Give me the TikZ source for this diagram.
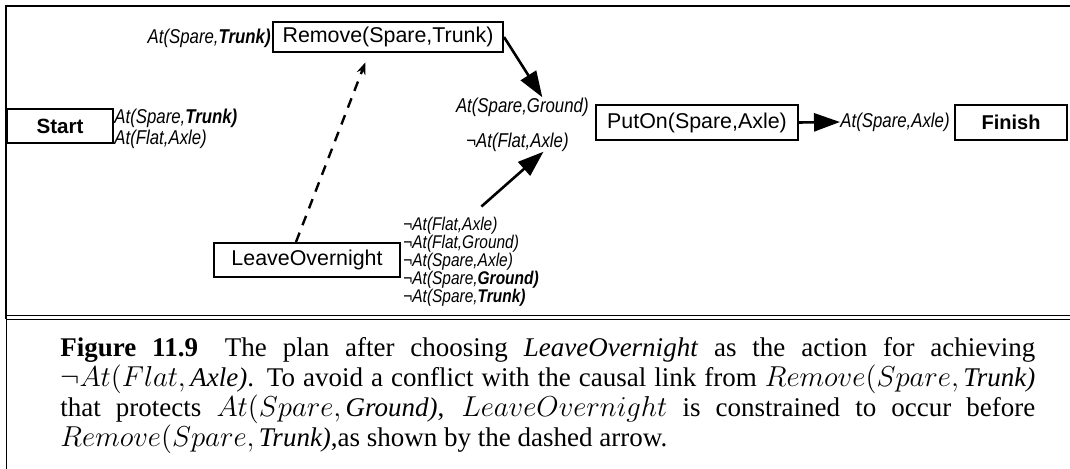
\documentclass[tikz,border=0pt]{standalone}
\usepackage{fontspec}
\setmainfont{Liberation Serif}
\newfontfamily\dsans{Liberation Sans}
\newfontfamily\dcond[FakeStretch=0.84]{Liberation Sans}
\usetikzlibrary{arrows.meta}
\begin{document}
\begin{tikzpicture}[x=0.5pt, y=-0.5pt,
  act/.style={draw, line width=1pt, inner sep=0pt, font=\dsans\fontsize{10.7}{12}\selectfont},
  cond/.style={inner sep=0pt, font=\dcond\itshape\fontsize{10}{10}\selectfont},
  link/.style={line width=1.3pt, -{Triangle[length=13pt,width=9pt]}},
  order/.style={line width=1.2pt, dash pattern=on 5pt off 4pt, shorten >=5pt, -{Stealth[length=6pt,width=4.5pt]}}]
  \useasboundingbox (0,0) rectangle (1070,469);
  \draw[line width=1pt] (6,319) -- (6,6) -- (1070,6);
  \draw[line width=0.5pt] (6,319) -- (6,469);
  \draw[line width=0.7pt] (6,315.5) -- (1070,315.5) (6,319.5) -- (1070,319.5);
  \node[act, minimum width=53pt, minimum height=17pt, font=\dsans\bfseries\fontsize{10.3}{12}\selectfont] (start) at (60,126) {Start};
  \node[act, minimum width=115pt, minimum height=15pt] (remove) at (388,37) {Remove(Spare,Trunk)};
  \node[act, minimum width=101pt, minimum height=17.5pt] (puton) at (697,122.5) {PutOn(Spare,Axle)};
  \node[act, minimum width=56pt, minimum height=17.5pt, font=\dsans\bfseries\fontsize{10}{12}\selectfont] (finish) at (1011,122.5) {Finish};
  \node[act, minimum width=93pt, minimum height=17pt] (leave) at (307,260) {LeaveOvernight};
  \node[cond, anchor=east] (trunkpre) at (271,38) {At(Spare,\textbf{Trunk)}};
  \node[cond, anchor=west] (trunkeff) at (114,118) {At(Spare,\textbf{Trunk)}};
  \node[cond, anchor=west] (flateff) at (114,139) {At(Flat,Axle)};
  \node[cond, anchor=east] (ground) at (589,107) {At(Spare,Ground)};
  \node[cond, anchor=east] (flat) at (569,142) {¬At(Flat,Axle)};
  \node[cond, anchor=west] (axle) at (840,122) {At(Spare,Axle)};
  \node[cond, anchor=west, text width=80pt, align=left, font=\dcond\itshape\fontsize{9.2}{9}\selectfont] (effects) at (403,261.5)
    {\lineskiplimit=-5pt
     ¬At(Flat,Axle)\\¬At(Flat,Ground)\\¬At(Spare,Axle)\\¬At(Spare,\textbf{Ground)}\\¬At(Spare,\textbf{Trunk)}\par};
  \draw[link] (remove.east) -- ([xshift=10pt]ground.north);
  \draw[link] ([xshift=-1pt,yshift=5pt]effects.north) -- ([xshift=13pt]flat.south);
  \draw[link] (puton.east) -- (axle.west);
  \draw[order] ([xshift=-5.5pt]leave.north) -- ([xshift=-9.5pt]remove.south);
  \node[anchor=base west, inner sep=0pt, text width=487.5pt, align=justify] (caption) at (60,357)
    {\fontsize{13.5}{15}\selectfont\baselineskip=15pt
     \textbf{Figure 11.9}\quad The plan after choosing \textit{LeaveOvernight} as the action for achieving\linebreak
     $\neg At(Flat,$\,\textit{Axle)}. To avoid a conflict with the causal link from $Remove(Spare,$\,\textit{Trunk)}\linebreak
     that protects $At(Spare,$\,\textit{Ground)}, $LeaveOvernight$ is constrained to occur before\linebreak
     $Remove(Spare,$\,\textit{Trunk)},as shown by the dashed arrow.\par};
\end{tikzpicture}
\end{document}
